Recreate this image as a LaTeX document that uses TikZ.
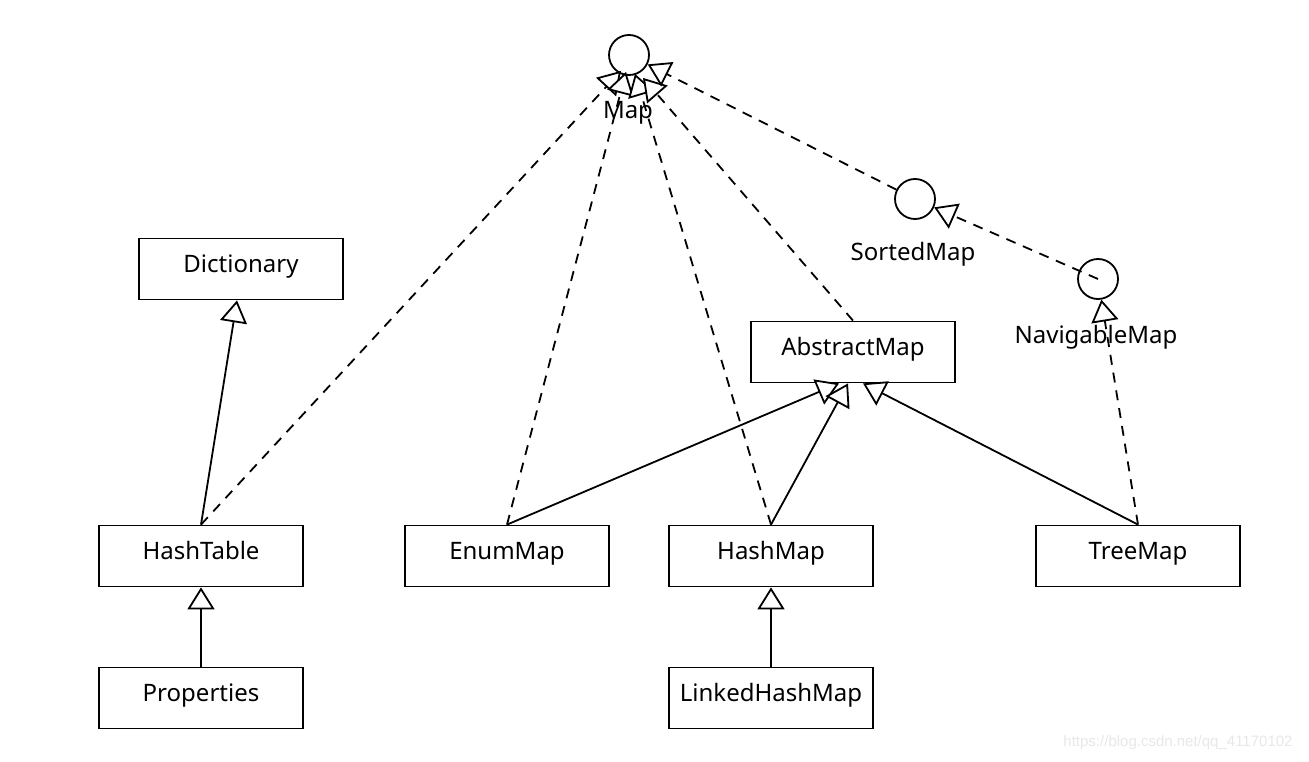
\documentclass[tikz,border=0pt]{standalone}
\usepackage{fontspec}
\setmainfont{Noto Sans}
\newfontfamily\wmfont{Liberation Sans}
\usetikzlibrary{arrows.meta}
\tikzset{
  cls/.style={draw, line width=1.8pt, minimum width=204pt, minimum height=61pt, inner sep=0pt, fill=white, text height=0.8em, text depth=0.2em},
  iface/.style={circle, draw, line width=1.8pt, minimum size=40pt, inner sep=0pt},
  lbl/.style={inner sep=0pt},
  inh/.style={line width=1.8pt, -{Triangle[length=22pt,width=27pt,fill=white]}},
  real/.style={inh, dash pattern=on 10pt off 8pt},
}
\begin{document}
\begin{tikzpicture}[x=1pt,y=-1pt,font=\fontsize{24}{29}\selectfont]
\useasboundingbox[fill=white] (0,0) rectangle (1309,762);
% classes
\node[cls] (dict) at (241,269) {Dictionary};
\node[cls] (ht) at (201,556) {HashTable};
\node[cls] (prop) at (201,698) {Properties};
\node[cls] (enum) at (507,556) {EnumMap};
\node[cls] (hm) at (771,556) {HashMap};
\node[cls] (lhm) at (771,698) {LinkedHashMap};
\node[cls] (tm) at (1138,556) {TreeMap};
\node[cls] (am) at (853,352) {AbstractMap};
% interfaces
\node[iface] (map) at (629,55) {};
\node[iface] (sorted) at (915,199) {};
\node[iface] (nav) at (1098,279) {};
\node[lbl] (maplbl) at (628,113) {Map};
\node[lbl] (sortedlbl) at (913,254) {SortedMap};
\node[lbl] (navlbl) at (1096,337) {NavigableMap};
% inheritance
\draw[inh] (ht.north) -- ([xshift=-4pt]dict.south);
\draw[inh] (prop.north) -- (ht.south);
\draw[inh] (lhm.north) -- (hm.south);
\draw[inh] (enum.north) -- ([xshift=-14pt]am.south);
\draw[inh] (hm.north) -- ([xshift=-5pt]am.south);
\draw[inh] (tm.north) -- ([xshift=10pt]am.south);
% realization
\draw[real] (ht.north) -- ([xshift=-8pt,yshift=5pt]map.south);
\draw[real] (enum.north) -- ([xshift=-3pt,yshift=4pt]map.south);
\draw[real] (hm.north) -- ([xshift=6pt,yshift=2pt]map.south);
\draw[real] (am.north) -- ([xshift=14pt,yshift=-2pt]map.south);
\draw[real] (sorted) -- (map);
\draw[real] (nav.center) -- (sorted);
\draw[real] (tm.north) -- (nav);
% watermark
\node[lbl, text=black!9, font=\wmfont\fontsize{15}{17}\selectfont] (wm) at (1178,743) {https://blog.csdn.net/qq\_41170102};
\end{tikzpicture}
\end{document}
